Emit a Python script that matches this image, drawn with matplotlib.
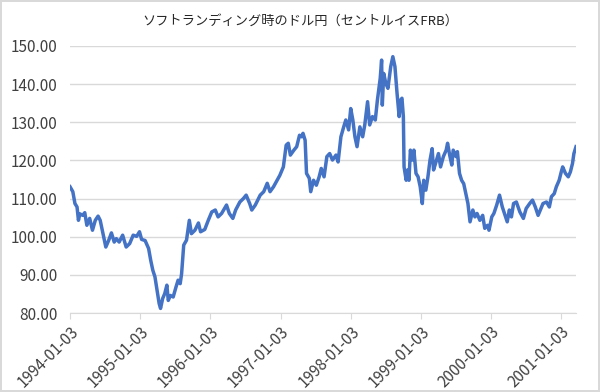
import numpy as np
import pandas as pd
import matplotlib
matplotlib.use("Agg")
import matplotlib.pyplot as plt

plt.rcParams['font.family'] = ['Noto Sans CJK JP', 'DejaVu Sans']

title = "ソフトランディング時のドル円（セントルイスFRB）"

# position in years, counted from 1994-01-03
years = [
    1994.00, 1994.04, 1994.07, 1994.10, 1994.12, 1994.14, 1994.18, 1994.21,
    1994.24, 1994.28, 1994.32, 1994.36, 1994.40, 1994.43, 1994.47, 1994.51,
    1994.55, 1994.59, 1994.63, 1994.66, 1994.70, 1994.75, 1994.80, 1994.85,
    1994.90, 1994.95, 1994.99, 1995.02, 1995.07, 1995.12, 1995.15, 1995.18,
    1995.21, 1995.24, 1995.27, 1995.29, 1995.32, 1995.35, 1995.38, 1995.40,
    1995.43, 1995.47, 1995.51, 1995.54, 1995.57, 1995.59, 1995.62, 1995.66,
    1995.70, 1995.73, 1995.78, 1995.83, 1995.86, 1995.92, 1995.97, 1996.02,
    1996.07, 1996.11, 1996.16, 1996.23, 1996.27, 1996.32, 1996.36, 1996.42,
    1996.47, 1996.51, 1996.56, 1996.59, 1996.64, 1996.71, 1996.76, 1996.81,
    1996.85, 1996.90, 1996.95, 1996.99, 1997.04, 1997.08, 1997.11, 1997.14,
    1997.19, 1997.23, 1997.27, 1997.30, 1997.32, 1997.35, 1997.37, 1997.41,
    1997.43, 1997.47, 1997.51, 1997.55, 1997.58, 1997.62, 1997.66, 1997.70,
    1997.74, 1997.79, 1997.82, 1997.86, 1997.90, 1997.93, 1997.97, 1998.00,
    1998.03, 1998.06, 1998.09, 1998.13, 1998.17, 1998.20, 1998.24, 1998.27,
    1998.31, 1998.35, 1998.38, 1998.42, 1998.44, 1998.45, 1998.47, 1998.50,
    1998.53, 1998.57, 1998.60, 1998.63, 1998.66, 1998.69, 1998.71, 1998.73,
    1998.75, 1998.76, 1998.79, 1998.81, 1998.83, 1998.85, 1998.88, 1998.90,
    1998.93, 1998.96, 1998.99, 1999.02, 1999.04, 1999.07, 1999.10, 1999.13,
    1999.16, 1999.18, 1999.21, 1999.25, 1999.28, 1999.32, 1999.36, 1999.38,
    1999.41, 1999.44, 1999.46, 1999.50, 1999.52, 1999.55, 1999.58, 1999.61,
    1999.64, 1999.67, 1999.70, 1999.74, 1999.77, 1999.80, 1999.84, 1999.88,
    1999.91, 1999.95, 1999.97, 2000.01, 2000.04, 2000.08, 2000.12, 2000.16,
    2000.20, 2000.23, 2000.26, 2000.29, 2000.32, 2000.36, 2000.41, 2000.46,
    2000.50, 2000.55, 2000.59, 2000.63, 2000.67, 2000.71, 2000.74, 2000.79,
    2000.83, 2000.86, 2000.90, 2000.93, 2000.97, 2001.00, 2001.02, 2001.06,
    2001.10, 2001.13, 2001.16, 2001.18, 2001.21,
]

usdjpy = [
    113.1, 111.8, 108.7, 107.8, 104.3, 106.0, 105.6, 106.3,
    103.0, 104.8, 101.7, 104.3, 105.4, 104.3, 100.8, 97.3,
    99.0, 101.0, 98.6, 99.5, 98.6, 100.4, 97.3, 98.2,
    100.4, 100.1, 101.3, 99.3, 99.0, 96.9, 93.8, 91.2,
    89.5, 86.0, 82.5, 81.2, 83.8, 85.1, 87.3, 83.3,
    84.6, 84.2, 86.8, 88.6, 87.7, 90.3, 97.8, 99.1,
    104.3, 100.8, 101.7, 103.6, 101.3, 101.9, 104.3, 106.5,
    107.0, 105.2, 106.1, 108.3, 106.1, 104.8, 107.0, 109.1,
    110.0, 110.9, 108.7, 107.0, 108.3, 110.9, 111.8, 114.0,
    111.8, 113.1, 114.8, 116.1, 118.3, 124.0, 124.5, 121.4,
    122.7, 123.6, 126.6, 126.2, 127.1, 125.3, 116.6, 115.3,
    111.8, 114.8, 113.5, 115.7, 117.9, 115.7, 121.0, 121.8,
    120.1, 121.4, 119.6, 126.2, 128.8, 130.6, 128.0, 133.6,
    130.6, 126.2, 123.6, 128.8, 126.2, 129.3, 135.4, 129.3,
    131.5, 130.6, 135.8, 141.5, 146.3, 134.5, 142.8, 140.2,
    138.9, 144.6, 147.2, 144.6, 137.6, 131.5, 135.8, 136.3,
    131.5, 118.3, 114.8, 117.5, 114.8, 122.7, 120.1, 122.7,
    116.6, 115.7, 113.1, 108.7, 114.8, 112.2, 115.7, 120.1,
    123.1, 117.5, 119.3, 121.8, 118.3, 121.0, 122.7, 124.5,
    121.4, 118.8, 122.7, 121.0, 122.3, 116.6, 114.8, 113.9,
    111.3, 108.7, 103.9, 107.0, 105.2, 106.1, 104.3, 105.6,
    102.2, 103.0, 101.7, 105.2, 106.1, 108.3, 110.9, 107.8,
    105.6, 103.9, 107.0, 105.2, 108.7, 109.1, 106.5, 104.8,
    107.4, 108.7, 109.6, 107.8, 105.6, 107.4, 108.7, 109.1,
    107.8, 110.5, 111.3, 113.1, 114.8, 117.0, 118.3, 116.6,
    115.7, 117.0, 119.2, 121.8, 123.6,
]

tick_years = [1994, 1995, 1996, 1997, 1998, 1999, 2000, 2001]
y_ticks = [80, 90, 100, 110, 120, 130, 140, 150]

start = pd.Timestamp("1994-01-03")
dates = start + pd.to_timedelta((np.array(years) - 1994) * 365.25, unit="D")
tick_dates = [pd.Timestamp(f"{y}-01-03") for y in tick_years]

fig = plt.figure(figsize=(6, 3.92), dpi=100)
fig.patch.set_edgecolor("#d9d9d9")
fig.patch.set_linewidth(1.5)
ax = fig.add_axes([0.1167, 0.2015, 0.8433, 0.6812])

ax.plot(dates, usdjpy, color="#4472c4", linewidth=2.5, solid_joinstyle="round")

ax.set_ylim(80, 150)
ax.set_xlim(dates[0], dates[-1])
ax.set_yticks(y_ticks)
ax.set_yticklabels([f"{v:.2f}" for v in y_ticks])
ax.set_xticks(tick_dates)
ax.set_xticklabels([d.strftime("%Y-%m-%d") for d in tick_dates],
                   rotation=45, ha="right", rotation_mode="anchor")

ax.grid(axis="y", color="#d9d9d9", linewidth=1)
ax.set_axisbelow(True)
for s in ["top", "right", "left"]:
    ax.spines[s].set_visible(False)
ax.spines["bottom"].set_color("#d9d9d9")
ax.tick_params(axis="y", length=0, pad=9, labelsize=11, labelcolor="#404040")
ax.tick_params(axis="x", length=4, color="#d9d9d9", pad=3, labelsize=11,
               labelcolor="#404040")

fig.text(0.5, 0.945, title, ha="center", va="center", fontsize=9.5, color="#262626")

fig.savefig("out.png", dpi=100)
